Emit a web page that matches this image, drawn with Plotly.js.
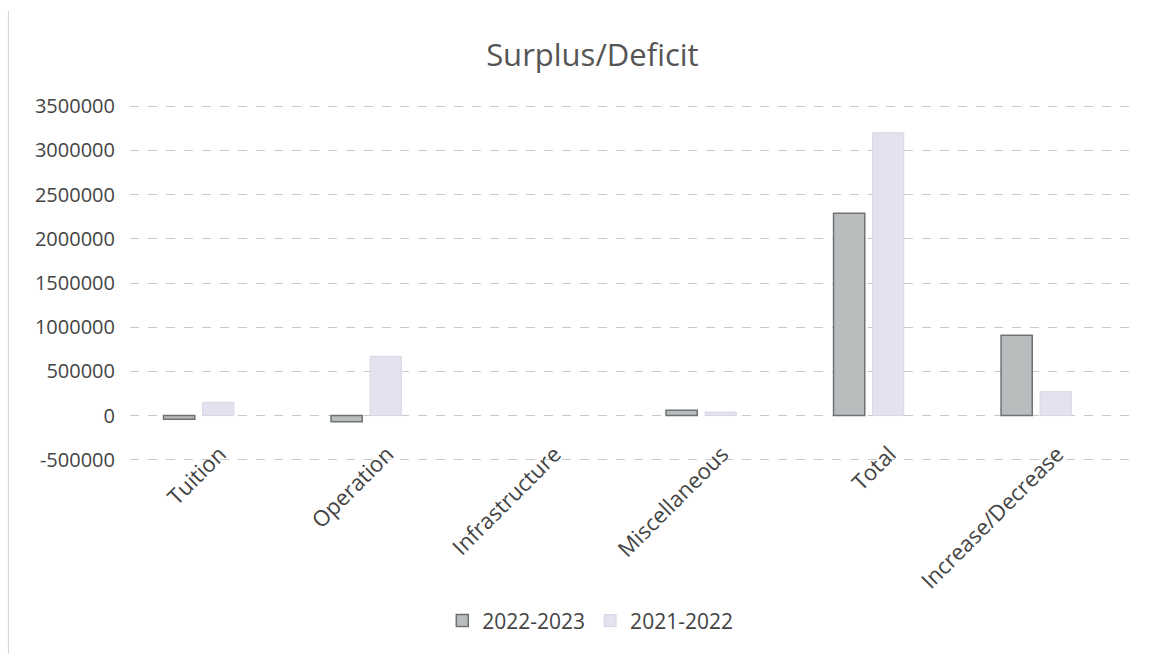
<!DOCTYPE html>
<html>
<head>
<meta charset="utf-8">
<script src="https://cdn.plot.ly/plotly-3.0.1.min.js"></script>
<style>html,body{margin:0;padding:0;background:#fff;}#chart{width:1157px;height:654px;}</style>
</head>
<body>
<div id="chart"></div>
<script>
var categories = ['Tuition', 'Operation', 'Infrastructure', 'Miscellaneous', 'Total', 'Increase/Decrease'];
var seriesNames = ['2022-2023', '2021-2022'];
var values2022_2023 = [-40000, -70000, 0, 60000, 2290000, 910000];
var values2021_2022 = [150000, 670000, 0, 40000, 3200000, 270000];
var yTicks = [-500000, 0, 500000, 1000000, 1500000, 2000000, 2500000, 3000000, 3500000];
var yTickLabels = ['-500000', '0', '500000', '1000000', '1500000', '2000000', '2500000', '3000000', '3500000'];

var font = '"Open Sans", "Noto Sans", sans-serif';

function edgeWidths(vals, w) { return vals.map(function (v) { return v === 0 ? 0 : w; }); }

var traces = [
  {
    type: 'bar', name: seriesNames[0], x: categories, y: values2022_2023,
    marker: {color: '#b9bcbd', line: {color: '#6f7274', width: edgeWidths(values2022_2023, 1.5)}}
  },
  {
    type: 'bar', name: seriesNames[1], x: categories, y: values2021_2022,
    marker: {color: '#e3e3ef', line: {color: '#d6d6e6', width: edgeWidths(values2021_2022, 1)}}
  }
];

var layout = {
  width: 1157, height: 654,
  paper_bgcolor: '#ffffff', plot_bgcolor: '#ffffff',
  margin: {l: 130, r: 22, t: 104, b: 188},
  font: {family: font, color: '#444', size: 20},
  title: {text: 'Surplus/Deficit', font: {family: font, size: 31, color: '#555'},
          x: 0.512, xanchor: 'center', xref: 'container', y: 0.916, yanchor: 'middle', yref: 'container'},
  barmode: 'group', bargap: 0.534, bargroupgap: 0.2,
  xaxis: {
    type: 'category', range: [-0.41, 5.59], tickangle: -45,
    showgrid: false, showline: false, zeroline: false, ticks: '',
    ticklabelshift: 21, ticklabelstandoff: -26,
    tickfont: {family: font, size: 22, color: '#444'}
  },
  yaxis: {
    range: [-525000, 3525000], tickmode: 'array', tickvals: yTicks, ticktext: yTickLabels,
    showgrid: true, gridcolor: '#c9c9c9', gridwidth: 1, griddash: 'dash',
    zeroline: false,
    showline: false, ticks: '', ticklabelstandoff: 14,
    tickfont: {family: font, size: 20, color: '#444'}
  },
  showlegend: true,
  legend: {orientation: 'h', x: 0.458, xanchor: 'center', y: -0.444, yanchor: 'middle',
           font: {family: font, size: 21, color: '#444'}, itemwidth: 30, traceorder: 'normal'},
  shapes: [
    {type: 'line', xref: 'paper', yref: 'paper', x0: -0.121, x1: -0.121, y0: -0.54, y1: 1.26,
     line: {color: '#d0d0d0', width: 1}}
  ]
};

Plotly.newPlot('chart', traces, layout, {displayModeBar: false, staticPlot: true});
</script>
</body>
</html>
